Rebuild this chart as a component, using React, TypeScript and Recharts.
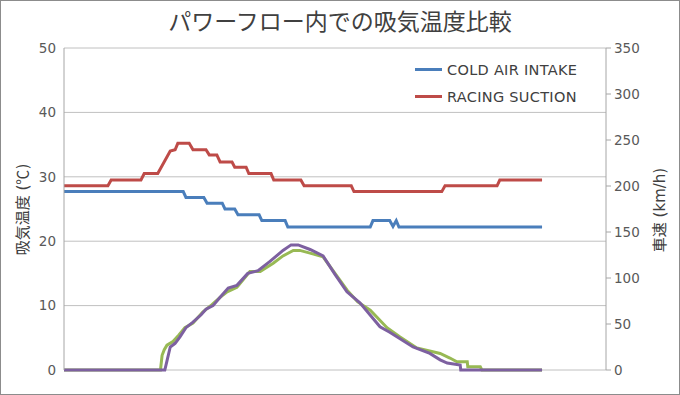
import React from 'react';
import { LineChart, Line, XAxis, YAxis, CartesianGrid, Legend } from 'recharts';

// Time axis (arbitrary units, 0-100) and series values
const coldAirX = [0, 22.0, 22.5, 25.8, 26.4, 29.2, 29.7, 31.5, 32.1, 36.0, 36.5, 40.8, 41.3, 56.5, 57.0, 60.1, 60.7, 61.3, 61.8, 88.2];
const coldAirTemp = [27.7, 27.7, 26.8, 26.8, 25.9, 25.9, 25.0, 25.0, 24.1, 24.1, 23.2, 23.2, 22.2, 22.2, 23.2, 23.2, 22.3, 23.2, 22.2, 22.2];

const racingX = [0, 8.1, 8.7, 14.2, 14.8, 17.3, 19.6, 20.5, 21.0, 23.1, 23.8, 26.2, 26.8, 28.2, 28.8, 31.0, 31.5, 33.6, 34.1, 38.2, 38.7, 43.7, 44.3, 53.0, 53.5, 69.7, 70.3, 79.9, 80.4, 88.2];
const racingTemp = [28.6, 28.6, 29.5, 29.5, 30.5, 30.5, 34.0, 34.2, 35.2, 35.2, 34.2, 34.2, 33.4, 33.4, 32.3, 32.3, 31.5, 31.5, 30.5, 30.5, 29.5, 29.5, 28.6, 28.6, 27.7, 27.7, 28.6, 28.6, 29.5, 29.5];

const speedAX = [0, 17.8, 18.1, 18.5, 19.0, 20.1, 21.2, 22.3, 23.8, 25.6, 27.3, 28.8, 30.1, 31.9, 34.3, 36.2, 38.6, 40.4, 42.3, 43.5, 45.4, 47.8, 50.0, 52.2, 54.2, 56.5, 59.6, 62.0, 65.1, 69.4, 71.2, 72.5, 74.4, 74.5, 76.8, 77.1, 88.2];
const speedA = [0, 0, 16, 22, 27, 31, 38, 46, 51, 63, 71, 79, 85, 90, 107, 107, 116, 124, 130, 130, 127, 123, 105, 87, 74, 65, 46, 36, 24, 18, 13, 9, 9, 3.6, 3.6, 0, 0];

const speedBX = [0, 18.6, 19.0, 19.6, 20.5, 21.4, 22.5, 23.8, 25.3, 26.2, 27.5, 28.8, 30.3, 31.9, 33.9, 35.8, 38.0, 40.4, 41.9, 43.2, 45.4, 47.8, 50.0, 52.2, 54.6, 58.3, 60.1, 64.4, 67.5, 69.4, 70.7, 73.1, 73.2, 88.2];
const speedB = [0, 0, 10, 25, 29, 36, 46, 52, 60, 66, 70, 79, 89, 92, 105, 108, 118, 130, 136, 136, 131, 124, 104, 85, 73, 47, 41, 25, 18, 11, 7.5, 5.4, 0, 0];

const tempTicks = [0, 10, 20, 30, 40, 50];
const speedTicks = [0, 50, 100, 150, 200, 250, 300, 350];

const toPoints = (xs: number[], ys: number[]) => xs.map((x, i) => ({ x, y: ys[i] }));

const legendItems = [
  { name: 'COLD AIR INTAKE', color: '#4a7ebb' },
  { name: 'RACING SUCTION', color: '#be4b48' },
];

const tickStyle = { fill: '#595959', fontSize: 13.5, fontFamily: 'DejaVu Sans' };
const cjk = '"DejaVu Sans", "Noto Sans CJK JP", sans-serif';

const CustomLegend = () => (
  <div style={{ fontFamily: 'DejaVu Sans', fontSize: 14.5, letterSpacing: 0.3, color: '#404040' }}>
    {legendItems.map((it) => (
      <div key={it.name} style={{ display: 'flex', alignItems: 'center', height: 27 }}>
        <div style={{ width: 27, height: 3, background: it.color, marginRight: 5 }} />
        <span>{it.name}</span>
      </div>
    ))}
  </div>
);

export default function App() {
  return (
    <div style={{ position: 'absolute', left: 0, top: 0, width: 680, height: 395, background: '#fff' }}>
      <LineChart width={680} height={395} margin={{ top: 48, right: 0, bottom: 25, left: 0 }}>
        <CartesianGrid yAxisId="temp" vertical={false} stroke="#c0c0c0" />
        <XAxis type="number" dataKey="x" domain={[0, 100]} hide />
        <YAxis
          yAxisId="temp"
          orientation="left"
          width={64}
          domain={[0, 50]}
          ticks={tempTicks}
          tickLine={false}
          axisLine={{ stroke: '#a6a6a6' }}
          tick={tickStyle}
        />
        <YAxis
          yAxisId="speed"
          orientation="right"
          width={74}
          domain={[0, 350]}
          ticks={speedTicks}
          tickSize={5}
          tickMargin={3}
          tickLine={{ stroke: '#a6a6a6' }}
          axisLine={{ stroke: '#a6a6a6' }}
          tick={tickStyle}
        />
        <Legend
          layout="vertical"
          verticalAlign="middle"
          align="center"
          content={CustomLegend}
          wrapperStyle={{ top: 56, left: 415, width: 220 }}
        />
        <Line yAxisId="temp" data={toPoints(coldAirX, coldAirTemp)} dataKey="y" stroke="#4a7ebb" strokeWidth={3} dot={false} isAnimationActive={false} />
        <Line yAxisId="temp" data={toPoints(racingX, racingTemp)} dataKey="y" stroke="#be4b48" strokeWidth={3} dot={false} isAnimationActive={false} />
        <Line yAxisId="speed" data={toPoints(speedAX, speedA)} dataKey="y" stroke="#98b954" strokeWidth={3} dot={false} isAnimationActive={false} />
        <Line yAxisId="speed" data={toPoints(speedBX, speedB)} dataKey="y" stroke="#7d60a0" strokeWidth={3} dot={false} isAnimationActive={false} />
      </LineChart>
      <div style={{ position: 'absolute', left: 0, top: 8, width: 680, textAlign: 'center', fontSize: 23, lineHeight: '28px', color: '#404040', fontFamily: cjk }}>
        パワーフロー内での吸気温度比較
      </div>
      <div style={{ position: 'absolute', left: 22 - 70, top: 209 - 10, width: 140, lineHeight: '20px', textAlign: 'center', fontSize: 15, color: '#404040', fontFamily: cjk, transform: 'rotate(-90deg)' }}>
        吸気温度 (<span style={{ fontFamily: '"Noto Sans CJK JP"' }}>℃</span>)
      </div>
      <div style={{ position: 'absolute', left: 660 - 70, top: 210 - 10, width: 140, lineHeight: '20px', textAlign: 'center', fontSize: 15, color: '#404040', fontFamily: cjk, transform: 'rotate(-90deg)' }}>
        車速 (km/h)
      </div>
      <div style={{ position: 'absolute', left: 0, top: 0, width: 680, height: 395, boxSizing: 'border-box', border: '1px solid #8c8c8c', pointerEvents: 'none' }} />
    </div>
  );
}
